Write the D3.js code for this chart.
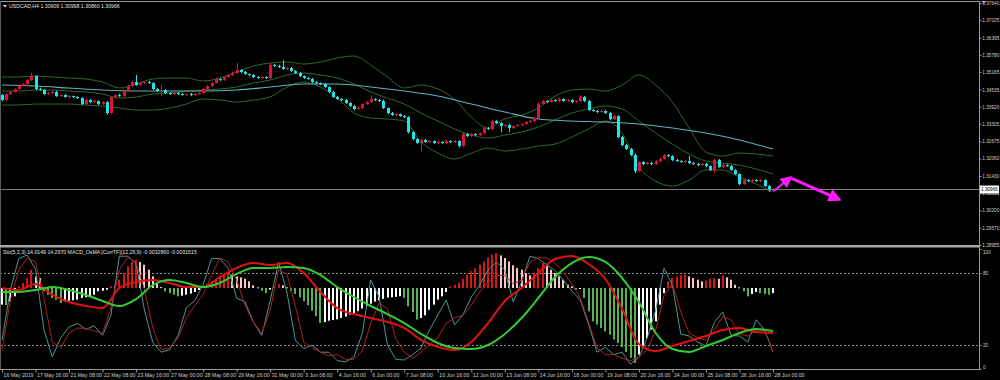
<!DOCTYPE html>
<html><head><meta charset="utf-8">
<script src="https://cdn.jsdelivr.net/npm/d3@7"></script>
<style>
html,body{margin:0;padding:0;background:#000;}
svg{display:block;}
text{font-family:"Liberation Sans",Arial,sans-serif;}
</style></head><body>
<svg id="c" width="1000" height="380"></svg>
<script>
// ---------------- DATA ----------------
const symbolTitle = "USDCAD,H4  1.30909 1.30998 1.30860 1.30966";
const subTitle = "Sto(5,3,3) 14.0149 14.2970   MACD_OsMA [CurrTF](12,26,9) -0.0032860 -0.0031515";
const timeLabels = ["16 May 2019","17 May 16:00","21 May 08:00","22 May 08:00","23 May 16:00","27 May 00:00","28 May 08:00","29 May 16:00","31 May 00:00","3 Jun 08:00","4 Jun 16:00","6 Jun 00:00","7 Jun 08:00","10 Jun 16:00","12 Jun 00:00","13 Jun 08:00","14 Jun 16:00","18 Jun 00:00","19 Jun 08:00","20 Jun 16:00","24 Jun 00:00","25 Jun 08:00","26 Jun 16:00","28 Jun 00:00"];
const priceTicks = [1.37640,1.37025,1.36395,1.35780,1.35165,1.34535,1.33920,1.33305,1.32675,1.32060,1.31430,1.30815,1.30200,1.29570,1.28955];
const stochLevels = [100,80,20,0];
const dashedLevels = [80,20];
const lastPrice = 1.30966;
const firstOpen = 1.34337;
const closes = [1.34158,1.34373,1.34445,1.34553,1.34660,1.34732,1.34876,1.35019,1.34553,1.34517,
 1.34373,1.34409,1.34445,1.34301,1.34337,1.34265,1.34301,1.34265,1.34230,1.34014,
 1.34158,1.34086,1.34122,1.34014,1.34086,1.33691,1.34265,1.34337,1.34301,1.34481,
 1.34660,1.34804,1.34696,1.34768,1.34804,1.34768,1.34553,1.34481,1.34517,1.34409,
 1.34373,1.34409,1.34373,1.34337,1.34373,1.34337,1.34373,1.34409,1.34553,1.34660,
 1.34768,1.34912,1.34876,1.34983,1.35055,1.35127,1.35235,1.35163,1.35091,1.35055,
 1.34983,1.34948,1.34983,1.34948,1.35414,1.35378,1.35342,1.35271,1.35307,1.35199,
 1.35127,1.35019,1.34948,1.34912,1.34804,1.34768,1.34732,1.34624,1.34445,1.34265,
 1.34194,1.34158,1.34050,1.33942,1.33835,1.33871,1.34014,1.34086,1.34194,1.34158,
 1.34122,1.33871,1.33691,1.33619,1.33655,1.33583,1.33547,1.33009,1.32758,1.32614,
 1.32722,1.32650,1.32686,1.32614,1.32650,1.32614,1.32686,1.32650,1.32686,1.32506,
 1.32937,1.32865,1.32937,1.32901,1.32973,1.33153,1.33117,1.33404,1.33332,1.33224,
 1.33260,1.33153,1.33224,1.33260,1.33296,1.33368,1.33404,1.33512,1.34014,1.34122,
 1.34086,1.34158,1.34122,1.34194,1.34122,1.34158,1.34086,1.34122,1.34265,1.34122,
 1.33799,1.33763,1.33727,1.33763,1.33691,1.33476,1.33583,1.32829,1.32542,1.32399,
 1.32183,1.31609,1.31932,1.31860,1.31896,1.31860,1.31968,1.32040,1.32183,1.32147,
 1.32004,1.31968,1.31932,1.31968,1.31896,1.31860,1.31824,1.31860,1.31788,1.31645,
 1.32004,1.31752,1.31824,1.31788,1.31645,1.31501,1.31142,1.31286,1.31250,1.31286,
 1.31250,1.31286,1.31070,1.30909,1.30966];
// wick lengths beyond the body, in pips
const highWickPips = [4,3,2,3,2,3,3,11,2,5, 3,3,4,5,2,4,3,2,4,3, 5,3,4,2,3,4,3,2,5,3, 4,3,25,4,3,5,3,3,18,4,
 2,3,4,3,2,4,3,3,4,3, 3,4,2,3,4,5,25,3,4,2, 3,4,3,2,7,4,5,25,3,4, 3,4,2,3,4,3,2,4,3,5,
 4,3,5,3,4,6,3,4,14,3, 4,5,3,4,3,2,3,3,4,3, 3,4,3,2,4,3,5,3,4,3, 5,3,4,3,2,5,3,4,3,4,
 3,5,3,4,2,3,4,3,5,4, 3,4,3,5,3,4,3,2,6,4, 3,4,3,5,3,4,6,3,4,3, 4,5,4,3,5,4,3,6,4,3,
 3,4,3,5,18,3,4,3,4,3, 5,4,3,3,4,3,3,4,3,4, 3,4,3,4,3.2];
const lowWickPips = [4,3,3,2,3,2,3,3,4,3, 4,3,3,4,3,2,4,3,3,4, 3,5,3,4,3,7,3,4,3,3, 3,4,3,3,4,3,4,3,18,3,
 3,4,3,2,3,4,3,3,3,4, 3,2,4,3,3,4,3,4,3,3, 4,3,3,4,3,3,4,3,4,3, 3,4,3,3,4,3,4,3,4,3,
 3,4,3,4,5,3,4,3,3,4, 3,4,5,3,4,3,4,5,4,3, 29,3,4,3,4,3,3,4,3,5, 3,4,3,3,4,5,3,4,3,22,
 3,14,3,3,4,3,3,4,3,3, 4,3,3,4,3,3,4,3,3,4, 4,3,4,3,3,5,3,4,4,3, 4,7,3,4,3,4,3,4,3,4,
 4,3,3,4,3,3,4,3,4,3, 11,3,4,3,3,4,4,3,4,3, 3,4,3,5,4.9];
// Bollinger bands, every 4th bar
const bbUpper = [1.34983,1.34983,1.35019,1.34983,1.34948,1.34912,1.34804,1.34589,1.34732,1.34912,
 1.34948,1.34948,1.34840,1.34948,1.35163,1.35378,1.35486,1.35522,1.35450,1.35522,
 1.35666,1.35738,1.35414,1.34983,1.34589,1.34696,1.34553,1.34194,1.33547,1.33153,
 1.33476,1.33619,1.33871,1.34301,1.34517,1.34553,1.34481,1.34696,1.35055,1.34696,
 1.34086,1.33153,1.32291,1.32147,1.32255,1.32219,1.32147];
const bbMiddle = [1.34481,1.34481,1.34517,1.34517,1.34481,1.34445,1.34373,1.34230,1.34265,1.34373,
 1.34409,1.34481,1.34517,1.34553,1.34624,1.34768,1.34876,1.35055,1.35127,1.35055,
 1.34948,1.34732,1.34445,1.34230,1.34014,1.33691,1.33404,1.33117,1.32901,1.32794,
 1.32901,1.33009,1.33188,1.33440,1.33691,1.33835,1.33942,1.33835,1.33404,1.32973,
 1.32578,1.32219,1.31968,1.31896,1.31824,1.31681,1.31501];
const bbLower = [1.33978,1.33978,1.34014,1.34014,1.34014,1.33978,1.33942,1.33871,1.33799,1.33799,
 1.33871,1.34014,1.34194,1.34158,1.34086,1.34158,1.34265,1.34624,1.34804,1.34624,
 1.34230,1.33691,1.33512,1.33476,1.33404,1.32650,1.32255,1.32040,1.32255,1.32435,
 1.32327,1.32399,1.32506,1.32578,1.32829,1.33117,1.33404,1.32973,1.31752,1.31250,
 1.31070,1.31286,1.31645,1.31645,1.31393,1.31142,1.30855];
// long moving average, every 8th bar
const maLine = [1.34696,1.34660,1.34589,1.34517,1.34481,1.34481,1.34481,1.34517,1.34624,1.34732,1.34732,1.34624,1.34481,1.34301,1.34014,1.33727,1.33476,1.33404,1.33368,1.33296,1.33153,1.32973,1.32722,1.32399];
// stochastic, every 2nd bar
const stochMain = [24,66,92,95,83,33,10,26,35,38, 33,36,28,45,94,94,88,49,22,14, 16,28,51,57,70,92,92,84,59,56,
 39,28,57,89,64,24,17,20,14,14, 7,6,10,30,74,60,20,8,7.5,12, 17.5,32.5,45,57.5,36.7,45,60,70,82.5,89,
 82.5,56,72.5,94,92,87,82,74,65,57.5, 37,14,18,12,14,4,10,26,49,84, 70,29,27.5,22.5,19,39,47.5,28,27.5,22.5,
 41,32.5,14.0];
const stochSignal = [16,57.5,82.5,92.5,89,59,22.5,17.5,30,34, 34,31.7,30,51,82.5,93,89,66,34,16, 17.5,26,42.5,53,62,78,92.5,89,74,53,
 39,30,49,82.5,79,53,22.5,18,14,11, 12,8,8,15,38,55,50,25,14,9, 14,20,26,38,42.5,45,53,64,72,78,
 78,71,74,89,93,92.5,88,81,71,59, 39,17.5,12,12,9,6.7,10,16,32.5,61, 71,47.5,30,26,24,32.5,44,41,29,27.5,
 32.5,32.5,14.3];
// MACD and signal, every 4th bar, in pips (x 0.0001)
const macdMain = [0,-1.5,3.0,-5.0,-10.3,-13.2,-14.7,0,4.4,5.9, 3.7,0.7,0.7,8.1,14.7,18.3,16.9,18.3,11.0,-2.9,
 -14.7,-19.1,-22.0,-24.9,-29.3,-38.1,-43.2,-45.5,-39.6,-25.7, -9.5,0,11.0,21.3,23.5,17.6,6.6,-15.4,-41.0,-46.2,
 -42.5,-38.9,-35.2,-30.8,-29.3,-32.3,-32.86];
const macdSignal = [-2.9,-2.9,-1.5,0.7,-1.5,-5.1,-9.5,-13.2,-8.1,2.2, 5.9,3.7,0.7,3.7,10.3,14.7,14.7,15.4,14.7,9.5,
 0.7,-6.6,-13.2,-19.1,-25.7,-33.7,-40.3,-44.0,-44.7,-41.8, -33.7,-22.0,-7.3,8.1,18.3,22.7,19.1,7.3,-10.3,-33.0,
 -44.7,-46.9,-42.5,-38.1,-33.0,-30.1,-31.515];
// OsMA histogram, every bar, pips
const osmaHist = [-12.2,-12.5,-9.8,-6.1,1.2,3.7,7.3,13.4,8.5,7.3,
 -2.4,-4.9,-7.3,-8.5,-11.0,-9.8,-9.3,-9.0,-8.5,-7.3,
 -6.8,-6.1,-4.9,-2.4,-2.0,-1.2,1.2,2.4,6.1,11.0,
 15.9,19.5,20.7,19.0,17.1,13.4,8.5,3.7,0.7,-2.4,
 -3.7,-4.9,-6.1,-5.6,-4.9,-4.1,-2.9,-1.5,1.2,2.9,
 4.9,6.8,8.5,9.8,11.0,9.8,8.5,7.8,6.8,4.9,
 2.0,0.5,-2.0,-3.7,-1.2,1.2,2.9,2.0,0.5,-2.4,
 -4.4,-6.8,-9.8,-12.7,-16.6,-20.7,-25.6,-25.0,-24.0,-23.5,
 -23,-22,-21,-19.5,-18.5,-17,-15,-13,-11.5,-10,
 -9,-8,-7,-6.8,-6.5,-6.0,-7.3,-13.4,-17.6,-23.2,
 -22,-20,-15.9,-12.2,-8.5,-6.1,-2.9,1.2,2.4,3.7,
 6.8,9.8,12.2,14.6,17.1,19.5,22.4,24.4,25.6,23.9,
 22,19.5,16.6,14.6,13.4,11,9.3,11,14.6,18.3,
 17.1,13.4,11,8.5,6.1,2.4,1.2,-1.2,-0.6,-7.3,
 -17.1,-24.4,-26.8,-29.3,-31.7,-34.2,-37.8,-40.3,-43.4,-46.8,
 -51.2,-54.9,-48.8,-43.9,-36.6,-30.5,-24.4,-12.2,-3.7,4.9,
 7.3,8.5,9.3,9.8,8.5,7.3,6.1,4.9,5.4,6.8,
 7.3,6.8,9.3,7.8,6.1,2.4,0.5,-2.4,-6.1,-4.4,
 -2.9,-3.7,-4.4,-4.9,-3.7];
// projection arrow annotation (bar index, price)
const arrowBars = [184, 188.2, 199.8];
const arrowPrices = [1.3090, 1.3138, 1.3059];

// ---------------- CHART ----------------
const svg = d3.select("#c");
const XR = 979;
const lastBar = closes.length - 1;
const x = d3.scaleLinear().domain([0, lastBar]).range([2, 773]);
const yP = d3.scaleLinear().domain([1.28955, 1.37640]).range([245, 3]);
const yS = d3.scaleLinear().domain([0, 100]).range([369, 249]);
const yM = d3.scaleLinear().domain([-59.4, 28.6]).range([369, 249]);
const px = v => Math.round(v) + 0.5;

svg.append("rect").attr("width",1000).attr("height",380).attr("fill","#000");
const defs = svg.append("defs");
defs.append("clipPath").attr("id","clipMain").append("rect").attr("x",0).attr("y",2).attr("width",XR).attr("height",243);
defs.append("clipPath").attr("id","clipSub").append("rect").attr("x",0).attr("y",248).attr("width",XR).attr("height",121);

const main = svg.append("g").attr("clip-path","url(#clipMain)");
const sub = svg.append("g").attr("clip-path","url(#clipSub)");

// Bollinger bands + MA
const mkLine = (step, ys) => d3.line().x((d,k)=>x(k*step)).y(d=>ys(d)).curve(d3.curveMonotoneX);
[bbUpper, bbMiddle, bbLower].forEach(arr => {
  main.append("path").attr("d", mkLine(4, yP)(arr)).attr("fill","none").attr("stroke","#2d6a2d").attr("stroke-width",1);
});
main.append("path").attr("d", mkLine(8, yP)(maLine)).attr("fill","none").attr("stroke","#5fb3bd").attr("stroke-width",1.1);

// candles
const bars = closes.map((c,i)=>{
  const o = i===0 ? firstOpen : closes[i-1];
  return {i, o, c, h: Math.max(o,c) + highWickPips[i]*1e-4, l: Math.min(o,c) - lowWickPips[i]*1e-4};
});
const upCol = "#dc143c", dnCol = "#1fe5e5";
const cg = main.append("g");
cg.selectAll("line.w").data(bars).join("line")
  .attr("x1", d=>px(x(d.i))).attr("x2", d=>px(x(d.i)))
  .attr("y1", d=>yP(d.h)).attr("y2", d=>yP(d.l))
  .attr("stroke", d=> d.c>=d.o ? upCol : dnCol).attr("stroke-width",1);
cg.selectAll("rect.b").data(bars).join("rect")
  .attr("x", d=>Math.round(x(d.i))-1).attr("width",3)
  .attr("y", d=>yP(Math.max(d.o,d.c)))
  .attr("height", d=>Math.max(1, Math.abs(yP(d.o)-yP(d.c))))
  .attr("fill", d=> d.c>=d.o ? upCol : dnCol);

// bid line
const yLast = px(yP(lastPrice));
svg.append("line").attr("x1",0).attr("x2",XR).attr("y1",yLast).attr("y2",yLast).attr("stroke","#7a7a7a").attr("stroke-width",1);

// projection arrow
const mag = "#ff1aff";
defs.append("marker").attr("id","ah1").attr("viewBox","0 0 10 10").attr("refX",8).attr("refY",5)
  .attr("markerWidth",12).attr("markerHeight",12).attr("markerUnits","userSpaceOnUse").attr("orient","auto")
  .append("path").attr("d","M0,0 L10,5 L0,10 Z").attr("fill",mag);
defs.append("marker").attr("id","ah2").attr("viewBox","0 0 10 10").attr("refX",8).attr("refY",5)
  .attr("markerWidth",16).attr("markerHeight",13).attr("markerUnits","userSpaceOnUse").attr("orient","auto")
  .append("path").attr("d","M0,0 L10,5 L0,10 Z").attr("fill",mag);
svg.append("line").attr("x1",x(arrowBars[0])+1).attr("y1",yP(arrowPrices[0]))
  .attr("x2",x(arrowBars[1])).attr("y2",yP(arrowPrices[1]))
  .attr("stroke",mag).attr("stroke-width",2).attr("marker-end","url(#ah1)");
svg.append("line").attr("x1",x(arrowBars[1])+1).attr("y1",yP(arrowPrices[1])+1)
  .attr("x2",x(arrowBars[2])).attr("y2",yP(arrowPrices[2]))
  .attr("stroke",mag).attr("stroke-width",3).attr("marker-end","url(#ah2)");

// ---- sub window ----
dashedLevels.forEach(v=>{
  sub.append("line").attr("x1",0).attr("x2",XR).attr("y1",px(yS(v))).attr("y2",px(yS(v)))
    .attr("stroke","#8a8a8a").attr("stroke-width",1).attr("stroke-dasharray","2,2");
});
const histColor = (v,i)=>{
  const p = i>0 ? osmaHist[i-1] : v;
  if (v >= 0) return v >= p ? "#d41818" : "#f3c9c9";
  return v < p ? "#56b356" : "#ffffff";
};
sub.append("g").selectAll("rect").data(osmaHist).join("rect")
  .attr("x",(d,i)=>Math.round(x(i))-1).attr("width",2)
  .attr("y",d=>Math.min(yM(d), yM(0))).attr("height",d=>Math.max(1, Math.abs(yM(d)-yM(0))))
  .attr("fill",histColor);
const sLine = d3.line().x((d,k)=>x(k*2)).y(d=>yS(d));
sub.append("path").attr("d",sLine(stochMain)).attr("fill","none").attr("stroke","#4f9494").attr("stroke-width",1);
sub.append("path").attr("d",sLine(stochSignal)).attr("fill","none").attr("stroke","#b01e1e").attr("stroke-width",1);
sub.append("path").attr("d",mkLine(4,yM)(macdMain)).attr("fill","none").attr("stroke","#e01212").attr("stroke-width",2);
sub.append("path").attr("d",mkLine(4,yM)(macdSignal)).attr("fill","none").attr("stroke","#33cc33").attr("stroke-width",2);

// ---- frames ----
const frameCol = "#9a9a9a";
svg.append("line").attr("x1",0).attr("x2",XR).attr("y1",1.5).attr("y2",1.5).attr("stroke",frameCol);
svg.append("line").attr("x1",0.5).attr("x2",0.5).attr("y1",1).attr("y2",369).attr("stroke","#5a5a5a");
svg.append("rect").attr("x",0).attr("y",245).attr("width",XR).attr("height",2.5).attr("fill","#a8a8a8");
svg.append("line").attr("x1",0).attr("x2",XR+1).attr("y1",369.5).attr("y2",369.5).attr("stroke",frameCol);
svg.append("line").attr("x1",XR+0.5).attr("x2",XR+0.5).attr("y1",1).attr("y2",370).attr("stroke",frameCol);
svg.append("path").attr("d","M981,1 L987,1 L984,4 Z").attr("fill","#8a8a8a");

// ---- axes ----
const txtCol = "#cfcfcf";
const fs = 5.2;
const fsR = 4.7;
const axP = svg.append("g").attr("transform",`translate(${XR+0.5},0)`)
  .call(d3.axisRight(yP).tickValues(priceTicks).tickFormat(d3.format(".5f")).tickSize(2).tickPadding(0.8));
axP.select(".domain").remove();
axP.selectAll("line").attr("stroke",frameCol);
axP.selectAll("text").attr("fill",txtCol).attr("font-size",fsR).attr("font-family","Liberation Sans, Arial, sans-serif");

// last price tag
const tag = svg.append("g");
tag.append("rect").attr("x",XR+1).attr("y",yLast-4).attr("width",19).attr("height",8).attr("fill","#ffffff");
tag.append("text").attr("x",XR+2).attr("y",yLast).attr("dy","0.35em").attr("font-size",fsR).attr("fill","#000").text(d3.format(".5f")(lastPrice));

// stochastic scale labels
const axS = svg.append("g").attr("transform",`translate(${XR+0.5},0)`)
  .call(d3.axisRight(yS).tickValues(stochLevels).tickSize(2).tickPadding(1.5));
axS.select(".domain").remove();
axS.selectAll("line").attr("stroke",frameCol);
axS.selectAll("text").attr("fill",txtCol).attr("font-size",fsR).attr("font-family","Liberation Sans, Arial, sans-serif")
  .attr("dy", d => d===100 ? "0.9em" : d===0 ? "-0.2em" : "0.32em");

// time axis
const tickBars = timeLabels.map((t,k)=>k*8);
const axT = svg.append("g").attr("transform","translate(0,369.5)")
  .call(d3.axisBottom(x).tickValues(tickBars).tickFormat((d,k)=>timeLabels[k]).tickSize(3).tickPadding(1));
axT.select(".domain").remove();
axT.selectAll("line").attr("stroke",frameCol);
axT.selectAll("text").attr("fill",txtCol).attr("font-size",fs).attr("text-anchor","start").attr("x",1)
  .attr("font-family","Liberation Sans, Arial, sans-serif");

// titles
svg.append("path").attr("d","M3,5 L7,5 L5,7.5 Z").attr("fill","#e0e0e0");
svg.append("text").attr("x",9).attr("y",7.8).attr("font-size",fs).attr("fill","#e0e0e0").text(symbolTitle);
svg.append("text").attr("x",3).attr("y",253.6).attr("font-size",fs).attr("fill","#e0e0e0").text(subTitle);
</script>
</body></html>
